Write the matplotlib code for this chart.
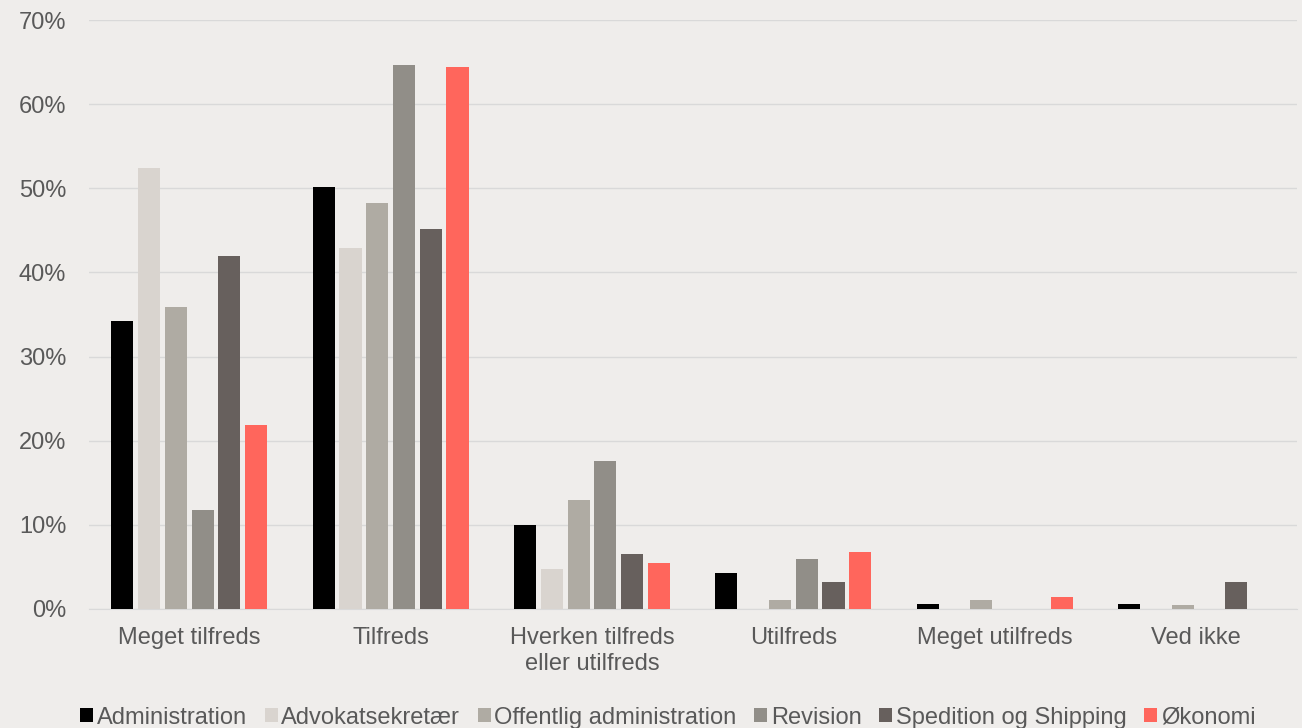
import numpy as np
import matplotlib.pyplot as plt
from matplotlib.ticker import PercentFormatter

plt.rcParams['font.family'] = ['Liberation Sans', 'DejaVu Sans']

categories = ["Meget tilfreds", "Tilfreds", "Hverken tilfreds\neller utilfreds",
              "Utilfreds", "Meget utilfreds", "Ved ikke"]
series = ["Administration", "Advokatsekretær", "Offentlig administration",
          "Revision", "Spedition og Shipping", "Økonomi"]
colors = ["#000000", "#D9D4CF", "#AFABA3", "#918E88", "#67605D", "#FF665C"]

administration = [34.2, 50.1, 10.0, 4.3, 0.6, 0.6]
advokatsekretaer = [52.4, 42.9, 4.8, 0.0, 0.0, 0.0]
offentlig = [35.9, 48.3, 12.9, 1.1, 1.1, 0.5]
revision = [11.8, 64.7, 17.6, 5.9, 0.0, 0.0]
spedition = [41.9, 45.2, 6.5, 3.2, 0.0, 3.2]
oekonomi = [21.9, 64.4, 5.5, 6.8, 1.4, 0.0]
values = [administration, advokatsekretaer, offentlig, revision, spedition, oekonomi]

bg = "#EFEDEB"
fig = plt.figure(figsize=(13.02, 7.28), dpi=100, facecolor=bg)
ax = fig.add_axes([0.068, 0.1635, 0.928, 0.809], facecolor=bg)

x = np.arange(len(categories))
step = 0.133
width = 0.11
for i, (name, vals, c) in enumerate(zip(series, values, colors)):
    ax.bar(x + (i - 2.5) * step, np.array(vals) / 100, width, color=c,
           label=name, zorder=3)

ax.set_xlim(-0.5, len(categories) - 0.5)
ax.set_ylim(0, 0.7)
ax.set_yticks(np.arange(0, 0.71, 0.1))
ax.yaxis.set_major_formatter(PercentFormatter(1.0, decimals=0))
ax.set_xticks(x)
ax.set_xticklabels(categories, linespacing=1.25)
ax.grid(axis='y', color="#D9D9D9", linewidth=1, zorder=0)
for s in ['top', 'right', 'left']:
    ax.spines[s].set_visible(False)
ax.spines['bottom'].set_color("#D9D9D9")
ax.tick_params(axis='both', length=0, labelsize=17, colors="#595959")
ax.tick_params(axis='x', pad=13)
ax.tick_params(axis='y', pad=16)

leg = fig.legend(loc='lower center', ncol=6, bbox_to_anchor=(0.513, -0.03),
                 frameon=False, fontsize=17, handlelength=0.55, handleheight=0.55,
                 handletextpad=0.15, columnspacing=0.75, labelcolor="#595959")

fig.savefig("out.png", dpi=100, facecolor=bg)
